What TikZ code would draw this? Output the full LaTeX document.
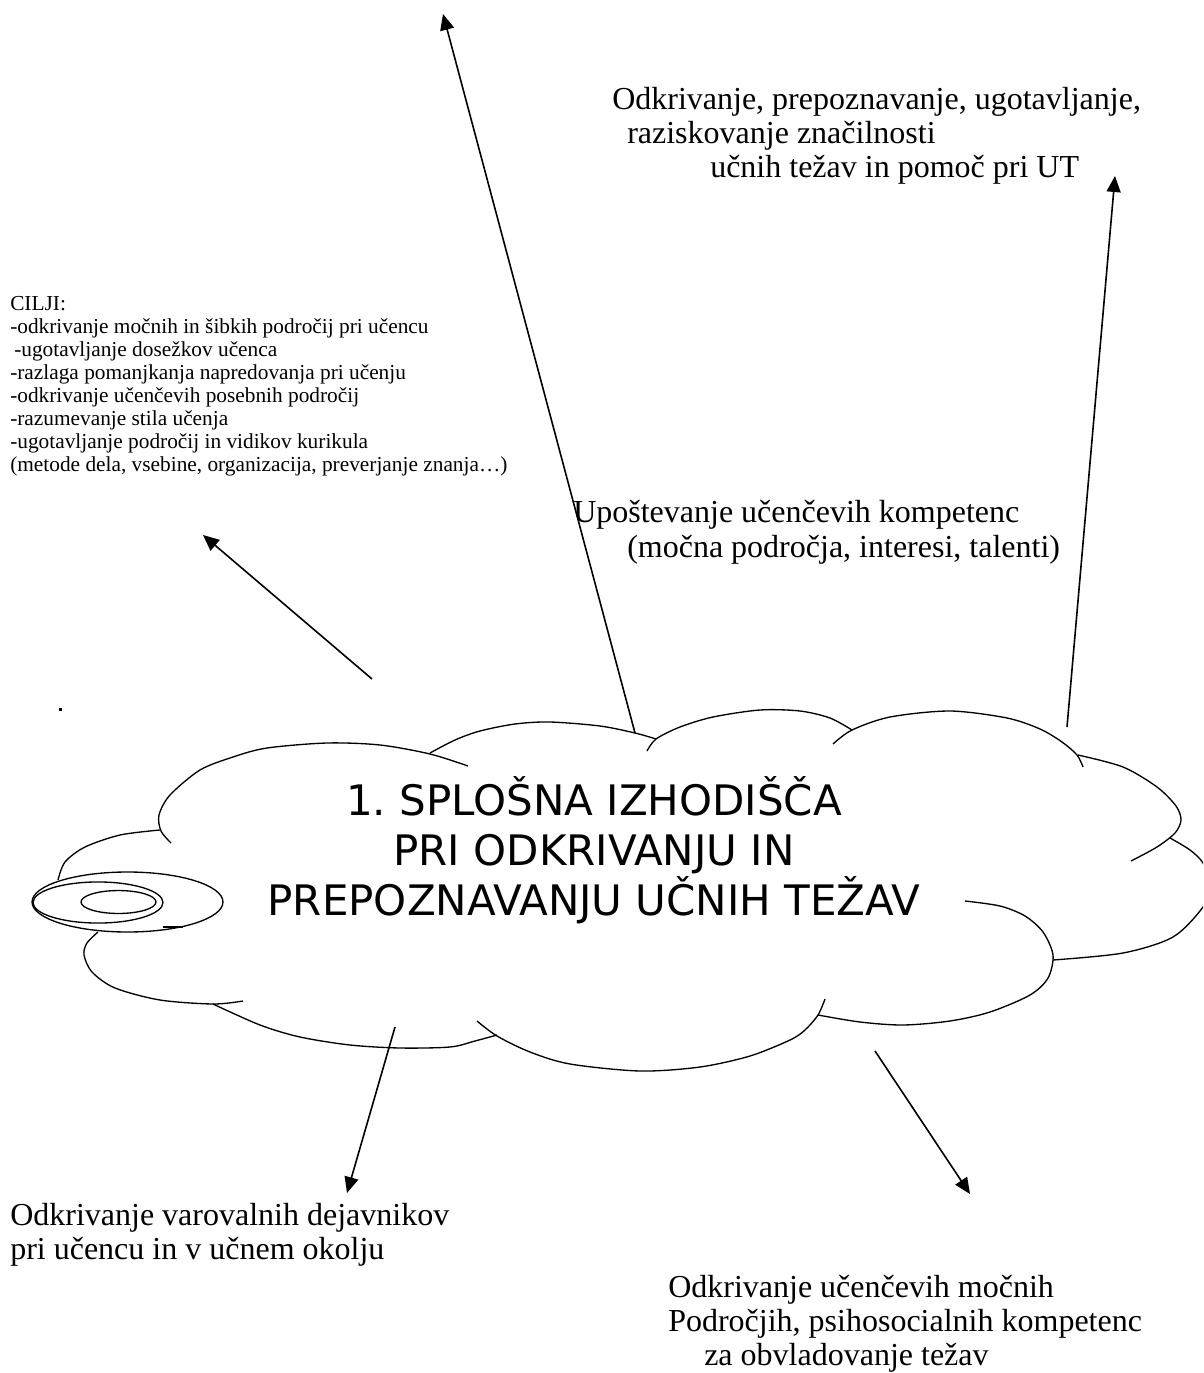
\documentclass[tikz,border=0pt]{standalone}
\usepackage{fontspec}
\setmainfont{Liberation Serif}
\newfontfamily\dejavu{DejaVu Sans}
\usetikzlibrary{arrows.meta}
\frenchspacing
\begin{document}
\begin{tikzpicture}[x=0.75pt,y=-0.75pt,
  cloudline/.style={line width=1pt, line join=round},
  arr/.style={line width=1.2pt, -{Triangle[length=12pt,width=10.5pt]}},
  bigtxt/.style={anchor=base west, inner sep=0pt, font=\fontsize{24pt}{28pt}\selectfont},
  smalltxt/.style={anchor=base west, inner sep=0pt, font=\fontsize{16pt}{18pt}\selectfont},
  cloudtxt/.style={anchor=base, inner sep=0pt, font=\dejavu\fontsize{31.5pt}{37.5pt}\selectfont}]
\path[use as bounding box, clip] (0,0) rectangle (1203,1373);

% cloud outline
\draw[cloudline] plot[smooth] coordinates {(171,843) (161,831) (159,815) (170,795) (200,770) (233,757) (267,748) (327,743) (380,745) (430,754) (468,766)};
\draw[cloudline] plot[smooth] coordinates {(430,753) (455,740) (480,731) (515,724) (550,722) (600,726) (635,733) (656,739)};
\draw[cloudline] plot[smooth] coordinates {(647,751) (656,739) (680,727) (713,717) (760,710) (800,711) (830,718) (852,730)};
\draw[cloudline] plot[smooth] coordinates {(833,744) (852,730) (890,717) (950,711) (1007,718) (1040,729) (1062,742) (1077,755) (1083,767)};
\draw[cloudline] plot[smooth] coordinates {(1078,755) (1123,767) (1157,787) (1176,806) (1181,820) (1175,833) (1157,847) (1131,861)};
\draw[cloudline] plot[smooth] coordinates {(1170,838) (1190,850) (1203,863) (1211,885) (1203,907) (1173,937) (1123,953) (1053,960)};
\draw[cloudline] plot[smooth] coordinates {(965,901) (1000,906) (1025,916) (1043,932) (1053,955) (1048,978) (1030,995) (990,1012) (950,1021) (903,1025) (860,1022) (818,1015)};
\draw[cloudline] plot[smooth] coordinates {(825,999) (818,1015) (805,1030) (790,1040) (750,1056) (700,1067) (640,1071) (570,1064) (530,1052) (497,1036) (477,1021)};
\draw[cloudline] plot[smooth] coordinates {(497,1035) (475,1041) (450,1047) (400,1048) (350,1045) (300,1037) (260,1025) (213,1004)};
\draw[cloudline] plot[smooth] coordinates {(243,1001) (213,1004) (160,1000) (115,988) (92,972) (84,955) (87,943) (98,932)};
\draw[cloudline] plot[smooth] coordinates {(160,830) (120,835) (85,847) (65,862) (58,880)};
\draw[cloudline] (127.5,902) ellipse [x radius=71.6pt, y radius=22.5pt];
\draw[cloudline] (98,902.5) ellipse [x radius=48.75pt, y radius=15.4pt];
\draw[cloudline] (118.5,902) ellipse [x radius=28.1pt, y radius=8.6pt];
\draw[cloudline] (163,927) -- (183,927);
\fill (59,708) rectangle (62,711);

% cloud text
\node[cloudtxt] (c1) at (594,815) {1. SPLOŠNA IZHODIŠČA};
\node[cloudtxt] (c2) at (594,865) {PRI ODKRIVANJU IN};
\node[cloudtxt] (c3) at (594,915) {PREPOZNAVANJU UČNIH TEŽAV};

% other texts
\node[bigtxt] (t1a) at (612,110) {Odkrivanje, prepoznavanje, ugotavljanje,};
\node[bigtxt] (t1b) at (627,144) {raziskovanje značilnosti};
\node[bigtxt] (t1c) at (710,178) {učnih težav in pomoč pri UT};

\node[bigtxt] (t2a) at (573,522) {Upoštevanje učenčevih kompetenc};
\node[bigtxt] (t2b) at (627,557) {(močna področja, interesi, talenti)};

\node[bigtxt] (t3a) at (10,1225) {Odkrivanje varovalnih dejavnikov};
\node[bigtxt] (t3b) at (10,1259) {pri učencu in v učnem okolju};

\node[bigtxt] (t4a) at (668,1297) {Odkrivanje učenčevih močnih};
\node[bigtxt] (t4b) at (668,1331) {Področjih, psihosocialnih kompetenc};
\node[bigtxt] (t4c) at (704,1365) {za obvladovanje težav};

\node[smalltxt] (s0) at (10,310) {CILJI:};
\node[smalltxt] (s1) at (10,333) {-odkrivanje močnih in šibkih področij pri učencu};
\node[smalltxt] (s2) at (14,356) {-ugotavljanje dosežkov učenca};
\node[smalltxt] (s3) at (10,379) {-razlaga pomanjkanja napredovanja pri učenju};
\node[smalltxt] (s4) at (10,402) {-odkrivanje učenčevih posebnih področij};
\node[smalltxt] (s5) at (10,425) {-razumevanje stila učenja};
\node[smalltxt] (s6) at (10,448) {-ugotavljanje področij in vidikov kurikula};
\node[smalltxt] (s7) at (10,471) {(metode dela, vsebine, organizacija, preverjanje znanja…)};

% arrows
\coordinate (a1s) at (635,733); \coordinate (a1e) at (443,14);
\coordinate (a2s) at (1067,727); \coordinate (a2e) at (1115,176);
\coordinate (a3s) at (372,679); \coordinate (a3e) at (203,535);
\coordinate (a4s) at (395,1027); \coordinate (a4e) at (347,1193);
\coordinate (a5s) at (875,1051); \coordinate (a5e) at (970,1194);
\draw[arr] (a1s) -- (a1e);
\draw[arr] (a2s) -- (a2e);
\draw[arr] (a3s) -- (a3e);
\draw[arr] (a4s) -- (a4e);
\draw[arr] (a5s) -- (a5e);
\end{tikzpicture}
\end{document}
